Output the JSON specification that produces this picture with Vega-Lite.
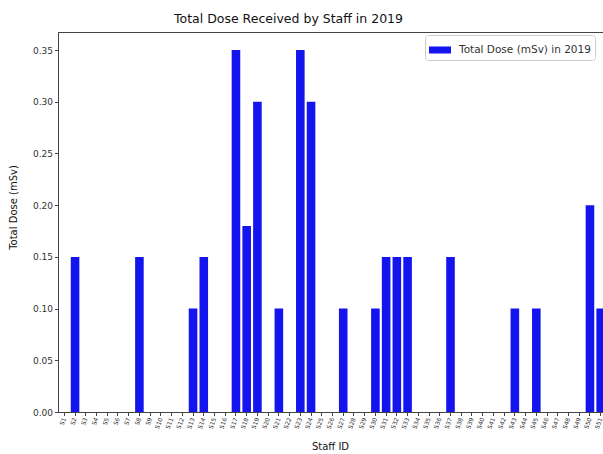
{
  "$schema": "https://vega.github.io/schema/vega-lite/v6.json",
  "autosize": "none",
  "width": 549,
  "height": 380,
  "padding": {"left": 58, "top": 32, "right": 0, "bottom": 42},
  "background": "white",
  "config": {
    "font": "DejaVu Sans",
    "view": {"stroke": "#444", "strokeWidth": 1}
  },
  "title": {
    "text": "Total Dose Received by Staff in 2019",
    "fontSize": 12.5,
    "fontWeight": "normal",
    "color": "#111",
    "anchor": "middle",
    "dx": -44,
    "offset": 7
  },
  "data": {
    "values": [
      {"staff": "S1", "dose": 0}, {"staff": "S2", "dose": 0.15}, {"staff": "S3", "dose": 0},
      {"staff": "S4", "dose": 0}, {"staff": "S5", "dose": 0}, {"staff": "S6", "dose": 0},
      {"staff": "S7", "dose": 0}, {"staff": "S8", "dose": 0.15}, {"staff": "S9", "dose": 0},
      {"staff": "S10", "dose": 0}, {"staff": "S11", "dose": 0}, {"staff": "S12", "dose": 0},
      {"staff": "S13", "dose": 0.10}, {"staff": "S14", "dose": 0.15}, {"staff": "S15", "dose": 0},
      {"staff": "S16", "dose": 0}, {"staff": "S17", "dose": 0.35}, {"staff": "S18", "dose": 0.18},
      {"staff": "S19", "dose": 0.30}, {"staff": "S20", "dose": 0}, {"staff": "S21", "dose": 0.10},
      {"staff": "S22", "dose": 0}, {"staff": "S23", "dose": 0.35}, {"staff": "S24", "dose": 0.30},
      {"staff": "S25", "dose": 0}, {"staff": "S26", "dose": 0}, {"staff": "S27", "dose": 0.10},
      {"staff": "S28", "dose": 0}, {"staff": "S29", "dose": 0}, {"staff": "S30", "dose": 0.10},
      {"staff": "S31", "dose": 0.15}, {"staff": "S32", "dose": 0.15}, {"staff": "S33", "dose": 0.15},
      {"staff": "S34", "dose": 0}, {"staff": "S35", "dose": 0}, {"staff": "S36", "dose": 0},
      {"staff": "S37", "dose": 0.15}, {"staff": "S38", "dose": 0}, {"staff": "S39", "dose": 0},
      {"staff": "S40", "dose": 0}, {"staff": "S41", "dose": 0}, {"staff": "S42", "dose": 0},
      {"staff": "S43", "dose": 0.10}, {"staff": "S44", "dose": 0}, {"staff": "S45", "dose": 0.10},
      {"staff": "S46", "dose": 0}, {"staff": "S47", "dose": 0}, {"staff": "S48", "dose": 0},
      {"staff": "S49", "dose": 0}, {"staff": "S50", "dose": 0.20}, {"staff": "S51", "dose": 0.10}
    ]
  },
  "mark": {"type": "bar"},
  "encoding": {
    "x": {
      "field": "staff",
      "type": "nominal",
      "sort": null,
      "scale": {"paddingInner": 0.2, "paddingOuter": 0.19},
      "axis": {
        "title": "Staff ID",
        "titleFontSize": 10,
        "titleFontWeight": "normal",
        "titleColor": "#111",
        "titleX": 272,
        "titleY": 34,
        "titleBaseline": "middle",
        "labelAngle": -70,
        "labelFontSize": 6,
        "labelColor": "#333",
        "labelPadding": 2,
        "labelOverlap": false,
        "tickSize": 3.5,
        "tickColor": "#444",
        "domainColor": "#444"
      }
    },
    "y": {
      "field": "dose",
      "type": "quantitative",
      "scale": {"domain": [0, 0.3675], "nice": false},
      "axis": {
        "title": "Total Dose (mSv)",
        "titleFontSize": 10,
        "titleFontWeight": "normal",
        "titleColor": "#111",
        "titleX": -40,
        "titleY": 175,
        "values": [0, 0.05, 0.1, 0.15, 0.2, 0.25, 0.3, 0.35],
        "format": ".2f",
        "labelFontSize": 9,
        "labelColor": "#333",
        "tickSize": 3.5,
        "tickColor": "#444",
        "domainColor": "#444",
        "grid": false
      }
    },
    "color": {
      "datum": "Total Dose (mSv) in 2019",
      "type": "nominal",
      "scale": {"range": ["#1414ee"]},
      "legend": {
        "title": null,
        "orient": "none",
        "legendX": 367,
        "legendY": 3,
        "labelFontSize": 10.5,
        "labelColor": "#333",
        "labelOffset": 8,
        "symbolType": "M-1,-0.32H1V0.32H-1Z",
        "symbolSize": 484,
        "symbolStrokeWidth": 0,
        "fillColor": "white",
        "strokeColor": "#ccc",
        "cornerRadius": 3,
        "padding": 4
      }
    }
  }
}
